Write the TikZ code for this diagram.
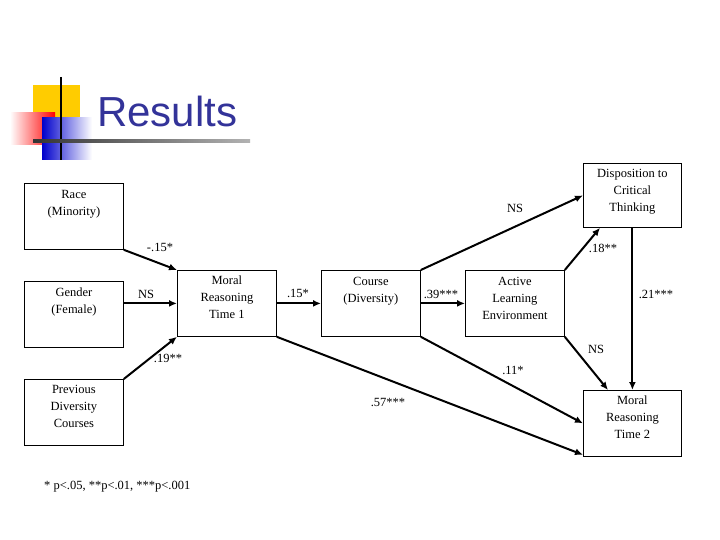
\documentclass[tikz,border=0pt]{standalone}
\usepackage{fontspec}
\setmainfont{Liberation Serif}
\newfontfamily\titlefont{Liberation Sans}
\usetikzlibrary{arrows.meta}
\definecolor{navy}{RGB}{51,51,153}
\definecolor{gold}{RGB}{255,204,0}
\begin{document}
\begin{tikzpicture}[x=1pt,y=-1pt,
  box/.style={draw,line width=0.8pt,minimum width=99pt,minimum height=66pt,anchor=north west,inner sep=0pt},
  lbl/.style={font=\fontsize{12.5}{17}\selectfont,align=center,inner sep=0pt},
  arr/.style={line width=2pt,-{Latex[length=8pt,width=7pt]}},
  coef/.style={font=\fontsize{12.5}{14}\selectfont,inner sep=1pt}]
\useasboundingbox (0,0) rectangle (720,540);
% logo
\fill[gold] (33,85) rectangle (80,125);
\shade[left color=white,right color=red] (10,113) rectangle (55,145);
\shade[left color=blue!80!black,right color=white] (42,118) rectangle (92,160);
\draw[line width=2pt] (61,77) -- (61,160);
\shade[left color=black!80,right color=black!30] (33,140) rectangle (250,142.5);
\node[font=\titlefont\fontsize{42}{42}\selectfont,text=navy,anchor=west,inner sep=0pt] (title) at (97,111) {Results};
% boxes
\node[box,minimum height=66pt] (race) at (24,183) {};
\node[lbl,anchor=north] (racet) at (race.north) [yshift=-7pt] {Race\\(Minority)};
\node[box] (gender) at (24,281) {};
\node[lbl,anchor=north] (gendert) at (gender.north) [yshift=-7pt] {Gender\\(Female)};
\node[box] (prev) at (24,379) {};
\node[lbl,anchor=north] (prevt) at (prev.north) [yshift=-6pt] {Previous\\Diversity\\Courses};
\node[box] (mr1) at (177,270) {};
\node[lbl,anchor=north] (mr1t) at (mr1.north) [yshift=-6pt] {Moral\\Reasoning\\Time 1};
\node[box] (course) at (321,270) {};
\node[lbl,anchor=north] (courset) at (course.north) [yshift=-7pt] {Course\\(Diversity)};
\node[box] (active) at (465,270) {};
\node[lbl,anchor=north] (activet) at (active.north) [yshift=-7pt] {Active\\Learning\\Environment};
\node[box,minimum width=98pt,minimum height=64pt] (disp) at (583,163) {};
\node[lbl,anchor=north] (dispt) at (disp.north) [yshift=-6pt] {Disposition to\\Critical\\Thinking};
\node[box,minimum width=98pt] (mr2) at (583,390) {};
\node[lbl,anchor=north] (mr2t) at (mr2.north) [yshift=-6pt] {Moral\\Reasoning\\Time 2};
% arrows
\draw[arr] (race.south east) -- (mr1.north west);
\draw[arr] (gender.east |- mr1.west) -- (mr1.west);
\draw[arr] (prev.north east) -- (mr1.south west);
\draw[arr] (mr1.east) -- (course.west);
\draw[arr] (mr1.south east) -- ([yshift=2pt]mr2.south west);
\draw[arr] (course.north east) -- (disp.west);
\draw[arr] (course.east) -- (active.west);
\draw[arr] (course.south east) -- (mr2.west);
\draw[arr] (active.north east) -- ([xshift=17pt]disp.south west);
\draw[arr] (active.south east) -- ([xshift=25pt]mr2.north west);
\draw[arr] (disp.south) -- (mr2.north);
% coefficients
\node[coef] (c1) at (160,247) {-.15*};
\node[coef] (c2) at (146,294) {NS};
\node[coef] (c3) at (168,358) {.19**};
\node[coef] (c4) at (298,293) {.15*};
\node[coef] (c5) at (388,402) {.57***};
\node[coef] (c6) at (515,208) {NS};
\node[coef] (c7) at (441,294) {.39***};
\node[coef] (c8) at (513,370) {.11*};
\node[coef] (c9) at (603,248) {.18**};
\node[coef] (c10) at (596,349) {NS};
\node[coef] (c11) at (656,294) {.21***};
\node[coef,anchor=west] (foot) at (43,487) {* p<.05, **p<.01, ***p<.001};
\end{tikzpicture}
\end{document}
